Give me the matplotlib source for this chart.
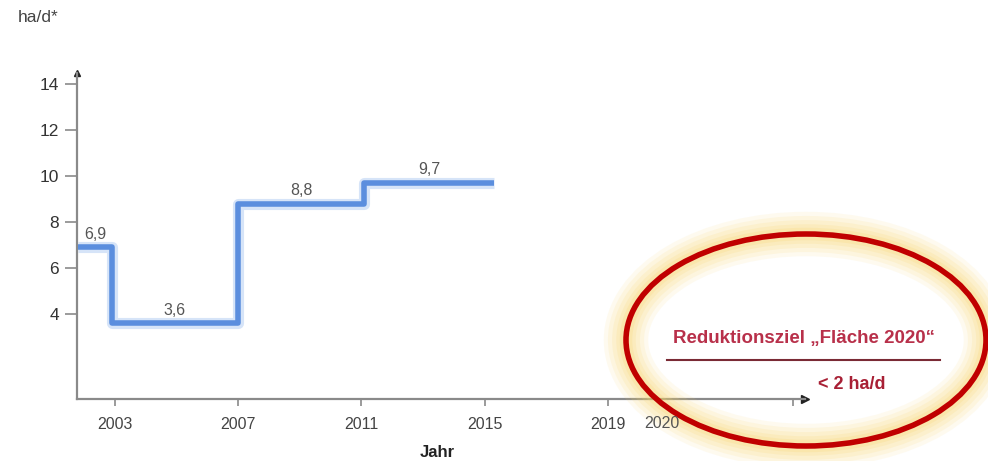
import matplotlib
matplotlib.use("Agg")
import matplotlib.pyplot as plt
from matplotlib.patches import Ellipse

plt.rcParams["font.family"] = ["Liberation Sans", "DejaVu Sans"]

# step edges (years) and averaged values
edges = [2001.8, 2002.9, 2007.0, 2011.1, 2015.3]
values = [6.9, 3.6, 8.8, 9.7]
value_labels = ["6,9", "3,6", "8,8", "9,7"]

x_ticks = [2003, 2007, 2011, 2015, 2019, 2025]
x_ticklabels = ["2003", "2007", "2011", "2015", "2019", ""]
y_ticks = [4, 6, 8, 10, 12, 14]

W, H = 988, 461
fig = plt.figure(figsize=(W / 100, H / 100), dpi=100)
ax = fig.add_axes([77 / W, (H - 399) / H, (805 - 77) / W, (399 - 73) / H])

# step line: halo + main line
xs, ys = [], []
for i, v in enumerate(values):
    xs += [edges[i], edges[i + 1]]
    ys += [v, v]
ax.plot(xs, ys, color="#d6e4f8", lw=8, solid_capstyle="butt", zorder=2)
ax.plot(xs, ys, color="#5b8ede", lw=4, solid_capstyle="butt", zorder=3)

for i, lab in enumerate(value_labels):
    xm = (edges[i] + edges[i + 1]) / 2
    ax.text(xm, values[i] + 0.25, lab, ha="center", va="bottom",
            fontsize=11.5, color="#555555")

ax.set_xlim(2001.77, 2025.4)
ax.set_ylim(0.3, 14.5)
for s in ["top", "right"]:
    ax.spines[s].set_visible(False)
for s in ["left", "bottom"]:
    ax.spines[s].set_color("#8a8a8a")
    ax.spines[s].set_linewidth(1.6)

ax.set_xticks(x_ticks)
ax.set_xticklabels(x_ticklabels)
ax.set_yticks(y_ticks)
ax.tick_params(axis="x", length=5, width=1.2, color="#8a8a8a",
               labelsize=11.5, labelcolor="#444444", pad=8)
ax.tick_params(axis="y", length=9, width=1.2, color="#8a8a8a",
               labelsize=12.5, labelcolor="#333333", pad=4)
ax.plot([1], [0], marker=">", color="#222222", ms=6,
        transform=ax.transAxes, clip_on=False)
ax.plot([0], [1], marker="^", color="#222222", ms=5,
        transform=ax.transAxes, clip_on=False)

# overlay in pixel coordinates
ov = fig.add_axes([0, 0, 1, 1])
ov.set_xlim(0, W)
ov.set_ylim(H, 0)
ov.axis("off")

ov.text(662, 423, "2020", fontsize=11.5, color="#555555",
        ha="center", va="center")
ov.text(18, 17, "ha/d*", fontsize=12.5, color="#444444", va="center")
ov.text(437, 452, "Jahr", fontsize=12, fontweight="bold",
        color="#222222", ha="center", va="center")

cx, cy, ew, eh = 806, 340, 360, 212
for lw, a in [(32, 0.10), (26, 0.12), (20, 0.14), (14, 0.16), (9, 0.2)]:
    ov.add_patch(Ellipse((cx, cy), ew, eh, fill=False, ec="#f6d36a",
                         lw=lw, alpha=a))
ov.add_patch(Ellipse((cx, cy), ew, eh, fill=False, ec="#c00000", lw=4))

ov.text(804, 338, "Reduktionsziel \u201eFläche 2020\u201c", fontsize=13.5,
        fontweight="bold", color="#b8304a", ha="center", va="center")
ov.plot([667, 940], [360, 360], color="#7a2a35", lw=1.5)
ov.text(852, 384, "< 2 ha/d", fontsize=13, fontweight="bold",
        color="#a82035", ha="center", va="center")

fig.savefig("out.png", dpi=100)
